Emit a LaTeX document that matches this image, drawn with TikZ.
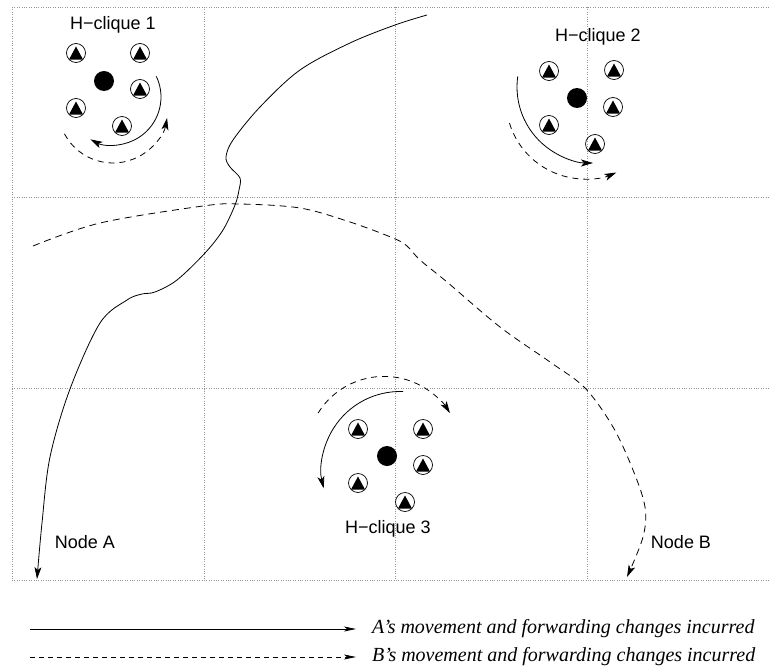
\documentclass[tikz,border=0pt]{standalone}
\usepackage{fontspec}
\setmainfont{Liberation Sans}
\newfontfamily\legendfont{Liberation Serif}
\usetikzlibrary{arrows.meta}
\begin{document}
\begin{tikzpicture}[x=1pt,y=-1pt,
  gridline/.style={draw=gray!85, line width=0.6pt, dash pattern=on 0.8pt off 1.6pt},
  tip/.style={-{Stealth[length=12pt,width=7pt,inset=3pt]}},
  track/.style={line width=0.8pt, tip},
  trackB/.style={track, dash pattern=on 7pt off 5pt},
  orbit/.style={line width=0.8pt, tip},
  orbitB/.style={orbit, dash pattern=on 6pt off 5pt},
  member/.style={circle, draw, line width=0.7pt, minimum size=19pt, inner sep=0pt,
    path picture={\fill ([yshift=6.5pt]path picture bounding box.center)
      -- ++(-7pt,-13pt) -- ++(14pt,0pt) -- cycle;}},
  head/.style={circle, fill, minimum size=20pt, inner sep=0pt},
  caption/.style={font=\fontsize{18}{20}\selectfont, inner sep=0pt},
  legendtext/.style={font=\legendfont\itshape\fontsize{20}{22}\selectfont, anchor=west, inner sep=0pt},
  legendline/.style={line width=0.8pt, -{Stealth[length=12pt,width=5pt,inset=3pt]}}]

\useasboundingbox (0,0) rectangle (770,669);

% area grid
\foreach \y in {7,197,388,580} \draw[gridline] (12,\y) -- (770,\y);
\foreach \x in {12,204,395,587} \draw[gridline] (\x,7) -- (\x,580);

% H-clique 1
\node[caption] (t1) at (113,25) {H−clique 1};
\node[head] (h1) at (104,81) {};
\node[member] (m11) at (76,53) {};
\node[member] (m12) at (140,53) {};
\node[member] (m13) at (140,89) {};
\node[member] (m14) at (76,108) {};
\node[member] (m15) at (122,126) {};
\coordinate (c1) at (113,97);
\coordinate (d1) at (113,108);
\draw[orbit] ([shift={(-25.5:48)}]c1) arc[start angle=-25.5, end angle=118, radius=48];
\draw[orbitB] ([shift={(152:55)}]d1) arc[start angle=152, end angle=10.5, radius=55];

% H-clique 2
\node[caption] (t2) at (598,37) {H−clique 2};
\node[head] (h2) at (577,98) {};
\node[member] (m21) at (549,71) {};
\node[member] (m22) at (614,70) {};
\node[member] (m23) at (613,107) {};
\node[member] (m24) at (549,125) {};
\node[member] (m25) at (595,144) {};
\coordinate (c2) at (593,87);
\coordinate (d2) at (585,100);
\draw[orbit] ([shift={(188:76)}]c2) arc[start angle=188, end angle=90, radius=76];
\draw[orbitB] ([shift={(163:79)}]d2) arc[start angle=163, end angle=66.6, radius=79];

% H-clique 3
\node[caption] (t3) at (388,529) {H−clique 3};
\node[head] (h3) at (387,456) {};
\node[member] (m31) at (358,429) {};
\node[member] (m32) at (423,429) {};
\node[member] (m33) at (423,465) {};
\node[member] (m34) at (358,483) {};
\node[member] (m35) at (405,502) {};
\coordinate (c3) at (400,470);
\coordinate (d3) at (384,454);
\draw[orbit] ([shift={(-87.8:78.5)}]c3) arc[start angle=-87.8, end angle=-193.5, radius=78.5];
\draw[orbitB] ([shift={(-148.2:77.6)}]d3) arc[start angle=-148.2, end angle=-31.8, radius=77.6];

% mobile nodes
\node[caption] (na) at (85,542) {Node A};
\node[caption] (nb) at (681,542) {Node B};
\coordinate (Astart) at (427,15);
\coordinate (Aend) at (37,579);
\coordinate (Bstart) at (33,246);
\coordinate (Bend) at (627,577);
\draw[track] plot[smooth, tension=0.55] coordinates {(Astart) (395,25) (350,43) (300,70) (260,107)
  (233,140) (226,157) (230,167) (240,178) (239,190) (235,205) (223,230) (205,253) (177,280)
  (155,292) (142,294) (127,300) (100,323) (70,389) (50,457) (42,523) (Aend)};
\draw[trackB] plot[smooth, tension=0.55] coordinates {(Bstart) (100,223) (203,206) (240,204)
  (300,208) (350,222) (393,238) (407,246) (420,260) (447,282) (500,327) (550,362) (585,388)
  (613,427) (633,470) (645,507) (643,537) (Bend)};

% legend
\coordinate (la1) at (30,629);
\coordinate (la2) at (356,629);
\coordinate (lb1) at (30,657);
\coordinate (lb2) at (356,657);
\draw[legendline] (la1) -- (la2);
\draw[legendline, dash pattern=on 5pt off 4pt] (lb1) -- (lb2);
\node[legendtext] (lta) at (372,629) {A’s movement and forwarding changes incurred};
\node[legendtext] (ltb) at (372,657) {B’s movement and forwarding changes incurred};
\end{tikzpicture}
\end{document}
